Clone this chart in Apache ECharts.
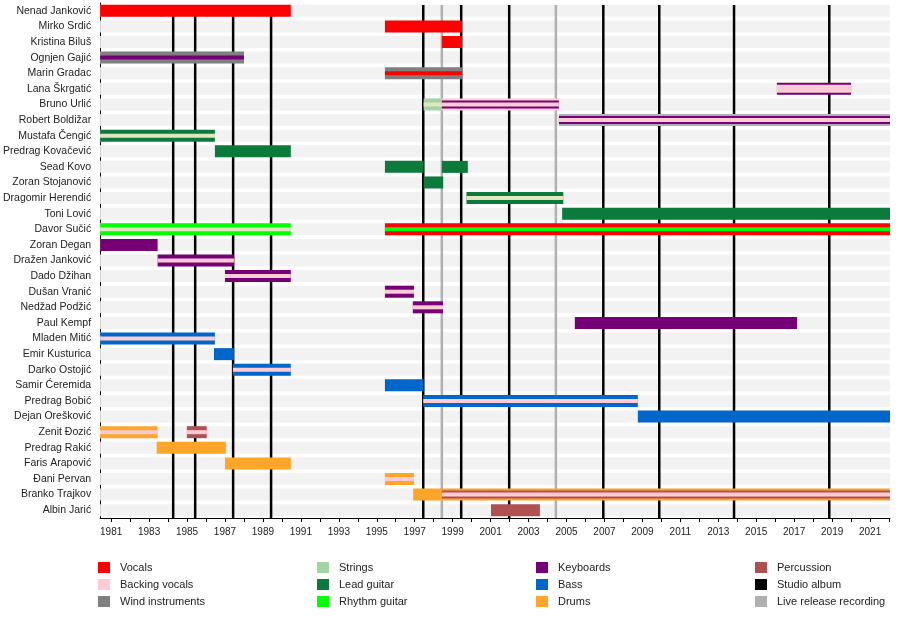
<!DOCTYPE html>
<html>
<head>
<meta charset="utf-8">
<script src="https://cdn.jsdelivr.net/npm/echarts@6/dist/echarts.min.js"></script>
<style>
html, body { margin: 0; padding: 0; background: #fff; }
#chart { width: 900px; height: 637px; }
</style>
</head>
<body>
<div id="chart"></div>
<script>
var members = ['Nenad Janković', 'Mirko Srdić', 'Kristina Biluš', 'Ognjen Gajić', 'Marin Gradac',
    'Lana Škrgatić', 'Bruno Urlić', 'Robert Boldižar', 'Mustafa Čengić', 'Predrag Kovačević',
    'Sead Kovo', 'Zoran Stojanović', 'Dragomir Herendić', 'Toni Lović', 'Davor Sučić',
    'Zoran Degan', 'Dražen Janković', 'Dado Džihan', 'Dušan Vranić', 'Nedžad Podžić',
    'Paul Kempf', 'Mladen Mitić', 'Emir Kusturica', 'Darko Ostojić', 'Samir Ćeremida',
    'Predrag Bobić', 'Dejan Orešković', 'Zenit Đozić', 'Predrag Rakić', 'Faris Arapović',
    'Đani Pervan', 'Branko Trajkov', 'Albin Jarić'];

var roleNames = ['Vocals', 'Backing vocals', 'Wind instruments', 'Strings', 'Lead guitar', 'Rhythm guitar',
    'Keyboards', 'Bass', 'Drums', 'Percussion', 'Studio album', 'Live release recording'];
var roleColors = ['#ff0000', '#ffccd5', '#808080', '#a4d4a4', '#0b7a3a', '#00ff00',
    '#750075', '#0066cc', '#ffa52a', '#b05050', '#000000', '#b0b0b0'];

var timeStart = 1980.42;
var timeEnd = 2022.05;

var yearLabels = [1981, 1983, 1985, 1987, 1989, 1991, 1993, 1995, 1997, 1999, 2001,
    2003, 2005, 2007, 2009, 2011, 2013, 2015, 2017, 2019, 2021];
var yearTicks = [1981, 1982, 1983, 1984, 1985, 1986, 1987, 1988, 1989, 1990, 1991, 1992, 1993,
    1994, 1995, 1996, 1997, 1998, 1999, 2000, 2001, 2002, 2003, 2004, 2005, 2006, 2007, 2008,
    2009, 2010, 2011, 2012, 2013, 2014, 2015, 2016, 2017, 2018, 2019, 2020, 2021, 2022];

var studioAlbums = [1984.27, 1985.43, 1987.43, 1989.43, 1997.45, 1999.45, 2001.98,
    2006.94, 2009.89, 2013.83, 2018.85];
var liveAlbums = [1998.43, 2004.44];

// main role of each member per period
var primary = [
    ['Nenad Janković', 1980.42, 1990.47, 'Vocals'],
    ['Mirko Srdić', 1995.43, 1999.49, 'Vocals'],
    ['Kristina Biluš', 1998.43, 1999.49, 'Vocals'],
    ['Ognjen Gajić', 1980.42, 1988.0, 'Wind instruments'],
    ['Marin Gradac', 1995.43, 1999.49, 'Wind instruments'],
    ['Lana Škrgatić', 2016.09, 2020.0, 'Keyboards'],
    ['Bruno Urlić', 1997.47, 1998.43, 'Strings'],
    ['Bruno Urlić', 1998.43, 2004.6, 'Backing vocals'],
    ['Robert Boldižar', 2004.6, 2022.05, 'Other 2'],
    ['Mustafa Čengić', 1980.42, 1986.47, 'Lead guitar'],
    ['Predrag Kovačević', 1986.47, 1990.47, 'Lead guitar'],
    ['Sead Kovo', 1995.43, 1997.47, 'Lead guitar'],
    ['Sead Kovo', 1998.43, 1999.8, 'Lead guitar'],
    ['Zoran Stojanović', 1997.47, 1998.5, 'Lead guitar'],
    ['Dragomir Herendić', 1999.73, 2004.83, 'Lead guitar'],
    ['Toni Lović', 2004.77, 2022.05, 'Lead guitar'],
    ['Davor Sučić', 1980.42, 1990.47, 'Rhythm guitar'],
    ['Davor Sučić', 1995.43, 2022.05, 'Vocals'],
    ['Zoran Degan', 1980.42, 1983.45, 'Keyboards'],
    ['Dražen Janković', 1983.45, 1987.47, 'Keyboards'],
    ['Dado Džihan', 1987.0, 1990.47, 'Keyboards'],
    ['Dušan Vranić', 1995.43, 1996.96, 'Keyboards'],
    ['Nedžad Podžić', 1996.9, 1998.49, 'Keyboards'],
    ['Paul Kempf', 2005.44, 2017.15, 'Keyboards'],
    ['Mladen Mitić', 1980.42, 1986.47, 'Bass'],
    ['Emir Kusturica', 1986.42, 1987.47, 'Bass'],
    ['Darko Ostojić', 1987.42, 1990.47, 'Bass'],
    ['Samir Ćeremida', 1995.43, 1997.47, 'Bass'],
    ['Predrag Bobić', 1997.45, 2008.76, 'Bass'],
    ['Dejan Orešković', 2008.76, 2022.05, 'Bass'],
    ['Zenit Đozić', 1980.42, 1983.45, 'Drums'],
    ['Zenit Đozić', 1984.99, 1986.04, 'Percussion'],
    ['Predrag Rakić', 1983.4, 1987.05, 'Drums'],
    ['Faris Arapović', 1987.0, 1990.47, 'Drums'],
    ['Đani Pervan', 1995.43, 1996.96, 'Drums'],
    ['Branko Trajkov', 1996.92, 2022.05, 'Drums'],
    ['Albin Jarić', 2001.02, 2003.6, 'Percussion']
];

var secondary = [
    ['Lana Škrgatić', 2016.09, 2020.0, 'Backing vocals'],
    ['Bruno Urlić', 1998.43, 2004.6, 'Keyboards'],
    ['Robert Boldižar', 2004.6, 2022.05, 'Keyboards'],
    ['Branko Trajkov', 1998.43, 2022.05, 'Percussion']
];

var tertiary = [
    ['Ognjen Gajić', 1980.42, 1988.0, 'Keyboards'],
    ['Marin Gradac', 1995.43, 1999.49, 'Vocals'],
    ['Bruno Urlić', 1997.47, 1998.43, 'Other'],
    ['Bruno Urlić', 1998.43, 2004.6, 'Backing vocals'],
    ['Robert Boldižar', 2004.6, 2022.05, 'Backing vocals'],
    ['Mustafa Čengić', 1980.42, 1986.47, 'Other'],
    ['Dragomir Herendić', 1999.73, 2004.83, 'Other'],
    ['Davor Sučić', 1980.42, 1990.47, 'Other'],
    ['Davor Sučić', 1995.43, 2022.05, 'Rhythm guitar'],
    ['Dražen Janković', 1983.45, 1987.47, 'Backing vocals'],
    ['Dado Džihan', 1987.0, 1990.47, 'Backing vocals'],
    ['Dušan Vranić', 1995.43, 1996.96, 'Backing vocals'],
    ['Nedžad Podžić', 1996.9, 1998.49, 'Backing vocals'],
    ['Mladen Mitić', 1980.42, 1986.47, 'Backing vocals'],
    ['Darko Ostojić', 1987.42, 1990.47, 'Backing vocals'],
    ['Predrag Bobić', 1997.45, 2008.76, 'Backing vocals'],
    ['Zenit Đozić', 1980.42, 1983.45, 'Backing vocals'],
    ['Zenit Đozić', 1984.99, 1986.04, 'Backing vocals'],
    ['Đani Pervan', 1995.43, 1996.96, 'Backing vocals'],
    ['Branko Trajkov', 1998.43, 2022.05, 'Backing vocals']
];

var rowOf = {};
members.forEach(function (m, i) { rowOf[m] = i; });
var colorOf = {};
roleNames.forEach(function (r, i) { colorOf[r] = roleColors[i]; });
// shades seen inside some bars, not listed in the legend
colorOf['Other'] = '#e2e6c0';
colorOf['Other 2'] = '#b4abbb';

var layerHeights = [12, 8, 4];
var barData = [];
var barColors = [];
[primary, secondary, tertiary].forEach(function (list, layer) {
    list.forEach(function (s) {
        barData.push([s[1], s[2], rowOf[s[0]], layer]);
        barColors.push(colorOf[s[3]]);
    });
});

var lineData = [];
studioAlbums.forEach(function (v) { lineData.push([v, 0, 0]); });
liveAlbums.forEach(function (v) { lineData.push([v, 0, 1]); });

var chart = echarts.init(document.getElementById('chart'));

var font = 'Liberation Sans, Arial, sans-serif';

var legendGraphics = [];
roleNames.forEach(function (name, i) {
    var col = Math.floor(i / 3), row = i % 3;
    var x = 98 + col * 219, y = 567 + row * 17;
    legendGraphics.push({
        type: 'rect', left: x, top: y - 5,
        shape: { width: 12, height: 11 },
        style: { fill: roleColors[i] }
    });
    legendGraphics.push({
        type: 'text', left: x + 22, top: y - 5,
        style: { text: name, fill: '#222', font: '11px ' + font }
    });
});

var option = {
    backgroundColor: '#fff',
    animation: false,
    grid: { left: 100, right: 10, top: 3, height: 515 },
    xAxis: {
        type: 'value',
        min: timeStart,
        max: timeEnd,
        splitLine: { show: false },
        axisLine: { show: true, lineStyle: { color: '#000', width: 1 } },
        axisTick: { show: true, length: 4, customValues: yearTicks, lineStyle: { color: '#000' } },
        axisLabel: {
            customValues: yearLabels, color: '#222', fontSize: 10, fontFamily: font, margin: 9,
            formatter: function (v) { return String(v); }
        }
    },
    yAxis: {
        type: 'category',
        data: members,
        inverse: true,
        axisLine: { show: true, lineStyle: { color: '#000', width: 1 } },
        axisTick: { show: false },
        axisLabel: { color: '#222', fontSize: 10.5, fontFamily: font, margin: 9, interval: 0 },
        splitLine: { show: false }
    },
    graphic: legendGraphics,
    series: [
        {
            type: 'custom',
            z: 1,
            silent: true,
            data: members.map(function (m, i) { return [timeStart, i]; }),
            encode: { x: 0, y: 1 },
            renderItem: function (params, api) {
                var cs = params.coordSys;
                var y = api.coord([timeStart, api.value(1)])[1];
                return { type: 'rect', shape: { x: cs.x, y: y - 6, width: cs.width, height: 12 }, style: { fill: '#f2f2f2' } };
            }
        },
        {
            type: 'custom',
            z: 2,
            silent: true,
            data: lineData,
            encode: { x: 0, y: 1 },
            renderItem: function (params, api) {
                var cs = params.coordSys;
                var x = api.coord([api.value(0), 0])[0];
                return {
                    type: 'line',
                    shape: { x1: x, y1: cs.y + 2, x2: x, y2: cs.y + cs.height },
                    style: { stroke: api.value(2) ? '#b0b0b0' : '#000', lineWidth: 2.5 }
                };
            }
        },
        {
            type: 'custom',
            z: 3,
            silent: true,
            data: barData,
            encode: { x: [0, 1], y: 2 },
            renderItem: function (params, api) {
                var a = api.coord([api.value(0), api.value(2)]);
                var b = api.coord([api.value(1), api.value(2)]);
                var h = layerHeights[api.value(3)];
                var rect = echarts.graphic.clipRectByRect(
                    { x: a[0], y: a[1] - h / 2, width: b[0] - a[0], height: h },
                    params.coordSys
                );
                return rect && { type: 'rect', shape: rect, style: { fill: barColors[params.dataIndex] } };
            }
        }
    ]
};

chart.setOption(option);
</script>
</body>
</html>
